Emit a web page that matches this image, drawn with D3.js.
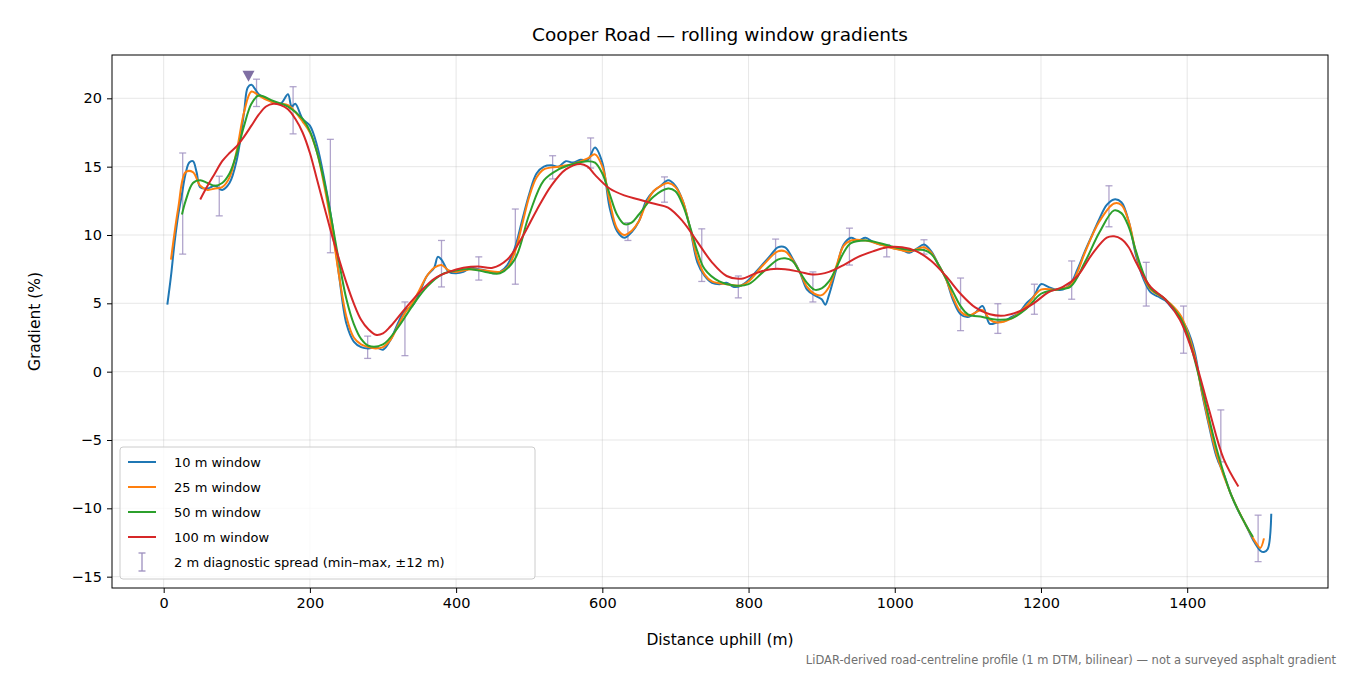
<!DOCTYPE html>
<html>
<head>
<meta charset="utf-8">
<script src="https://cdn.jsdelivr.net/npm/d3@7"></script>
<style>
  body { margin: 0; background: #fff; }
  text { font-family: "DejaVu Sans", sans-serif; }
</style>
</head>
<body>
<svg id="chart" width="1350" height="675"></svg>
<script>
// data: [distance m, gradient %]

const w10 = [[5,4.9],[10,7],[15,9.5],[20,11.5],[25,13],[30,14.5],[35,15.3],[40,15.4],[45,14.6],[50,13.5],[60,13.4],[70,13.6],[80,13.3],[90,13.8],[100,15.5],[110,19],[115,20.8],[120,21],[130,20.3],[140,20],[150,19.7],[160,19.6],[170,20.3],[175,19.4],[180,19.6],[190,18.5],[200,18],[210,16.5],[220,14],[230,11],[240,7],[250,3.5],[260,2.2],[270,1.8],[280,1.7],[290,1.8],[300,1.6],[310,2.3],[320,3.5],[330,4.5],[340,4.8],[350,5.8],[360,7],[370,7.6],[375,8.4],[380,8.2],[390,7.3],[400,7.2],[410,7.3],[420,7.6],[430,7.5],[440,7.4],[450,7.2],[460,7.3],[470,7.8],[480,9],[490,11],[500,13],[510,14.5],[520,15],[530,15.1],[540,15],[550,15.4],[560,15.3],[570,15.5],[580,15.5],[590,16.4],[600,15.3],[610,12],[620,10.3],[630,9.8],[640,10.2],[650,11],[660,12.5],[670,13.2],[680,13.6],[690,14],[700,13.6],[710,12.5],[720,10.5],[730,8],[740,7],[750,6.5],[760,6.4],[770,6.5],[780,6.2],[790,6.3],[800,6.7],[810,7.3],[820,7.9],[830,8.5],[840,9.1],[850,9.1],[860,8.3],[870,7.3],[880,6],[890,5.6],[900,5.3],[905,4.9],[910,5.6],[920,7.5],[930,9.3],[940,9.8],[950,9.6],[960,9.8],[970,9.5],[980,9.3],[990,9.2],[1000,9.0],[1010,8.9],[1020,8.7],[1030,9.0],[1040,9.3],[1050,8.8],[1060,7.8],[1070,6.8],[1080,5.2],[1090,4.2],[1100,4.0],[1110,4.3],[1120,4.8],[1130,3.5],[1140,3.6],[1150,3.7],[1160,4.0],[1170,4.3],[1180,5],[1190,5.5],[1200,6.4],[1210,6.2],[1220,6.0],[1230,6.0],[1240,6.4],[1250,7.5],[1260,8.8],[1270,10],[1280,11.2],[1290,12.2],[1300,12.6],[1310,12.4],[1320,11],[1330,8.5],[1340,6.8],[1350,5.8],[1360,5.5],[1370,5.2],[1380,4.6],[1390,4],[1400,3.1],[1410,1.5],[1420,-1.5],[1430,-4],[1440,-6.2],[1450,-7.5],[1460,-9],[1470,-10.2],[1480,-11.2],[1490,-12.3],[1500,-13.1],[1505,-13.2],[1510,-13],[1515,-10.4]];

const w25 = [[10,8.2],[20,12],[30,14.6],[40,14.6],[50,13.6],[60,13.3],[70,13.4],[80,13.5],[90,14.2],[100,16.2],[110,19],[120,20.5],[130,20.2],[140,19.9],[150,19.7],[160,19.6],[170,19.5],[180,19],[190,18.3],[200,17.5],[210,16],[220,13.5],[230,10.5],[240,7],[250,4],[260,2.5],[270,2],[280,1.8],[290,1.7],[300,1.8],[310,2.3],[320,3.3],[330,4.3],[340,5],[350,6],[360,7],[370,7.6],[380,7.8],[390,7.4],[400,7.3],[420,7.5],[440,7.4],[460,7.3],[470,7.6],[480,8.7],[490,10.7],[500,12.8],[510,14.2],[520,14.8],[540,15],[560,15.2],[580,15.6],[590,15.9],[600,15],[610,12.5],[620,10.5],[630,10],[640,10.3],[650,11],[660,12.3],[670,13.2],[680,13.6],[690,13.8],[700,13.5],[710,12.5],[720,10.5],[730,8.3],[740,7.1],[750,6.6],[770,6.4],[790,6.3],[800,6.6],[820,7.8],[840,8.8],[850,8.8],[860,8.2],[870,7.3],[880,6.2],[890,5.7],[900,5.6],[910,6.2],[920,7.7],[930,9.2],[940,9.6],[960,9.6],[980,9.3],[1000,9.0],[1020,8.8],[1040,9.1],[1050,8.7],[1060,7.8],[1070,6.8],[1080,5.4],[1090,4.4],[1100,4.1],[1120,4.5],[1130,3.8],[1140,3.6],[1160,3.9],[1180,4.8],[1200,6.0],[1220,6.0],[1240,6.3],[1250,7.3],[1260,8.7],[1280,11],[1300,12.3],[1310,12.2],[1320,11],[1330,8.7],[1340,7],[1350,6],[1370,5.3],[1390,4.2],[1400,3],[1410,1.2],[1420,-1.4],[1440,-6],[1460,-9],[1480,-11.2],[1495,-12.6],[1500,-12.9],[1505,-12.2]];

const w50 = [[25,11.5],[30,12.5],[40,13.8],[50,14],[60,13.8],[70,13.6],[80,13.8],[90,14.5],[100,16],[110,18],[120,19.6],[130,20.2],[150,19.8],[170,19.4],[190,18.5],[200,17.6],[210,16],[220,13.8],[230,11],[240,8],[250,5.3],[260,3.5],[270,2.4],[280,1.9],[300,2],[320,3.2],[340,4.8],[360,6.2],[380,7.1],[400,7.4],[420,7.5],[440,7.3],[460,7.2],[480,8.2],[500,11.5],[520,14],[540,14.8],[560,15.2],[580,15.4],[590,15.3],[600,14.5],[610,13],[620,11.5],[630,10.8],[640,10.9],[650,11.5],[670,12.8],[690,13.4],[700,13.2],[710,12.2],[720,10.6],[730,8.8],[740,7.5],[760,6.6],[780,6.3],[800,6.4],[820,7.3],[840,8.2],[850,8.3],[860,8.1],[870,7.3],[880,6.5],[890,6],[900,6.1],[910,6.6],[920,7.6],[930,8.7],[940,9.4],[960,9.6],[980,9.4],[1000,9.1],[1020,8.9],[1040,8.9],[1050,8.6],[1060,7.8],[1080,5.8],[1090,4.8],[1100,4.2],[1120,4.0],[1140,3.8],[1160,3.9],[1180,4.6],[1200,5.7],[1220,6.0],[1240,6.2],[1260,8],[1280,10.2],[1300,11.8],[1310,11.6],[1320,10.6],[1330,8.8],[1340,7.2],[1350,6.1],[1370,5.3],[1390,4.0],[1400,2.8],[1420,-1.2],[1440,-5.6],[1460,-9],[1480,-11.2],[1490,-12.1]];

const w100 = [[50,12.6],[60,13.6],[70,14.5],[80,15.4],[90,16],[100,16.5],[110,17.2],[120,18],[130,18.8],[140,19.4],[150,19.6],[160,19.5],[170,19.2],[180,18.5],[190,17.5],[200,16],[210,14],[220,12],[230,10],[240,8.2],[250,6.5],[260,5],[270,3.8],[280,3.1],[290,2.7],[300,2.8],[310,3.3],[330,4.6],[350,5.8],[370,6.8],[390,7.3],[410,7.6],[430,7.7],[450,7.6],[470,8.2],[490,9.8],[510,11.8],[530,13.6],[550,14.8],[570,15.2],[580,15],[590,14.4],[610,13.4],[630,12.9],[650,12.6],[670,12.3],[690,12],[710,11],[730,9.5],[750,8],[770,7],[790,6.8],[810,7.2],[830,7.5],[850,7.5],[870,7.3],[890,7.1],[910,7.3],[930,7.8],[950,8.4],[970,8.8],[990,9.1],[1010,9.1],[1030,8.8],[1050,8.1],[1070,7.0],[1090,5.7],[1110,4.7],[1130,4.2],[1150,4.1],[1170,4.4],[1190,5],[1210,5.8],[1230,6.2],[1250,7],[1270,8.6],[1290,9.8],[1300,9.9],[1310,9.7],[1320,9.1],[1330,8],[1350,6.2],[1370,5.3],[1390,3.8],[1410,1],[1430,-2.8],[1450,-6.4],[1470,-8.4]];

// diagnostic spread: [distance, min, max]
const spread = [[26,8.6,16.0],[76,11.4,14.3],[127,19.4,21.4],[177,17.4,20.85],[228,8.7,17.0],[279,0.97,2.6],[330,1.17,5.1],[380,6.2,9.6],[431,6.7,8.4],[481,6.4,11.9],[532,14.1,15.8],[584,14.9,17.1],[635,9.6,10.9],[685,12.4,14.25],[736,6.6,10.45],[786,5.4,7.0],[837,7.5,9.7],[888,5.1,7.3],[938,7.8,10.5],[989,8.4,9.3],[1040,8.6,9.65],[1090,3.0,6.85],[1141,2.8,4.97],[1191,4.2,6.4],[1242,5.3,8.1],[1293,10.6,13.6],[1344,4.8,8.0],[1395,1.35,4.8],[1446,-6.6,-2.8],[1497,-13.9,-10.5]];

const peak = [116, 21.65];

const series = [
  {label: "10 m window", data: w10, color: "#1f77b4"},
  {label: "25 m window", data: w25, color: "#ff7f0e"},
  {label: "50 m window", data: w50, color: "#2ca02c"},
  {label: "100 m window", data: w100, color: "#d62728"}
];

const xTicks = [0, 200, 400, 600, 800, 1000, 1200, 1400];
const yTicks = [-15, -10, -5, 0, 5, 10, 15, 20];

const margin = {top: 55, right: 22, bottom: 87, left: 112};
const width = 1350, height = 675;

const svg = d3.select("#chart");

const xScale = d3.scaleLinear()
  .domain([-70.7, 1592.6])
  .range([margin.left, width - margin.right]);

const yScale = d3.scaleLinear()
  .domain([-15.83, 23.17])
  .range([height - margin.bottom, margin.top]);

const fmt = d => d < 0 ? "\u2212" + Math.abs(d) : String(d);

// grid
svg.append("g").selectAll("line").data(xTicks).join("line")
  .attr("x1", d => xScale(d)).attr("x2", d => xScale(d))
  .attr("y1", margin.top).attr("y2", height - margin.bottom)
  .attr("stroke", "#b0b0b0").attr("stroke-opacity", 0.3).attr("stroke-width", 1);
svg.append("g").selectAll("line").data(yTicks).join("line")
  .attr("y1", d => yScale(d)).attr("y2", d => yScale(d))
  .attr("x1", margin.left).attr("x2", width - margin.right)
  .attr("stroke", "#b0b0b0").attr("stroke-opacity", 0.3).attr("stroke-width", 1);

// axes
const xAxis = d3.axisBottom(xScale).tickValues(xTicks).tickSize(5).tickPadding(5).tickFormat(fmt);
const yAxis = d3.axisLeft(yScale).tickValues(yTicks).tickSize(5).tickPadding(5).tickFormat(fmt);

svg.append("g")
  .attr("transform", `translate(0, ${height - margin.bottom})`)
  .call(xAxis)
  .call(g => g.select(".domain").remove())
  .call(g => g.selectAll("text").attr("font-size", 14.5).attr("fill", "#000").attr("font-family", "DejaVu Sans"));

svg.append("g")
  .attr("transform", `translate(${margin.left}, 0)`)
  .call(yAxis)
  .call(g => g.select(".domain").remove())
  .call(g => g.selectAll("text").attr("font-size", 14.5).attr("fill", "#000").attr("font-family", "DejaVu Sans"));

// error bars
const eb = svg.append("g").attr("stroke", "#9d8fbf").attr("stroke-opacity", 0.8).attr("stroke-width", 1.3);
spread.forEach(([x, lo, hi]) => {
  eb.append("line").attr("x1", xScale(x)).attr("x2", xScale(x)).attr("y1", yScale(lo)).attr("y2", yScale(hi));
  eb.append("line").attr("x1", xScale(x) - 3.5).attr("x2", xScale(x) + 3.5).attr("y1", yScale(lo)).attr("y2", yScale(lo));
  eb.append("line").attr("x1", xScale(x) - 3.5).attr("x2", xScale(x) + 3.5).attr("y1", yScale(hi)).attr("y2", yScale(hi));
});

// lines
const lineGen = d3.line()
  .x(d => xScale(d[0]))
  .y(d => yScale(d[1]))
  .curve(d3.curveCatmullRom.alpha(0.5));

svg.selectAll(".line")
  .data(series)
  .join("path")
  .attr("class", "line")
  .attr("fill", "none")
  .attr("stroke", d => d.color)
  .attr("stroke-width", 2)
  .attr("d", d => lineGen(d.data));

// peak marker
const px = xScale(peak[0]), py = yScale(peak[1]);
svg.append("path")
  .attr("d", `M${px - 6},${py - 5} L${px + 6},${py - 5} L${px},${py + 6} Z`)
  .attr("fill", "#7f6fa3");

// frame
svg.append("rect")
  .attr("x", margin.left).attr("y", margin.top)
  .attr("width", width - margin.left - margin.right)
  .attr("height", height - margin.top - margin.bottom)
  .attr("fill", "none").attr("stroke", "#000").attr("stroke-width", 1);

// legend
const lg = svg.append("g").attr("transform", "translate(120, 447)");
lg.append("rect").attr("width", 415).attr("height", 132).attr("rx", 3)
  .attr("fill", "#fff").attr("fill-opacity", 0.8).attr("stroke", "#cccccc");
series.forEach((s, i) => {
  const y = 15 + i * 25;
  lg.append("line").attr("x1", 8).attr("x2", 36).attr("y1", y).attr("y2", y)
    .attr("stroke", s.color).attr("stroke-width", 2);
  lg.append("text").attr("x", 54).attr("y", y + 5).attr("font-size", 13).text(s.label);
});
{
  const y = 15 + 4 * 25, cx = 22;
  const g = lg.append("g").attr("stroke", "#9d8fbf").attr("stroke-width", 1.3);
  g.append("line").attr("x1", cx).attr("x2", cx).attr("y1", y - 9).attr("y2", y + 9);
  g.append("line").attr("x1", cx - 3.5).attr("x2", cx + 3.5).attr("y1", y - 9).attr("y2", y - 9);
  g.append("line").attr("x1", cx - 3.5).attr("x2", cx + 3.5).attr("y1", y + 9).attr("y2", y + 9);
  lg.append("text").attr("x", 54).attr("y", y + 5).attr("font-size", 13)
    .text("2 m diagnostic spread (min\u2013max, \u00b112 m)");
}

// titles
svg.append("text").attr("x", (margin.left + width - margin.right) / 2).attr("y", 41)
  .attr("text-anchor", "middle").attr("font-size", 18.5).text("Cooper Road \u2014 rolling window gradients");
svg.append("text").attr("x", (margin.left + width - margin.right) / 2).attr("y", 645)
  .attr("text-anchor", "middle").attr("font-size", 15.5).text("Distance uphill (m)");
svg.append("text").attr("transform", `translate(40, ${(margin.top + height - margin.bottom) / 2}) rotate(-90)`)
  .attr("text-anchor", "middle").attr("font-size", 15.5).text("Gradient (%)");
svg.append("text").attr("x", 1336).attr("y", 664).attr("text-anchor", "end")
  .attr("font-size", 11.5).attr("fill", "#707070")
  .text("LiDAR-derived road-centreline profile (1 m DTM, bilinear) \u2014 not a surveyed asphalt gradient");
</script>
</body>
</html>
